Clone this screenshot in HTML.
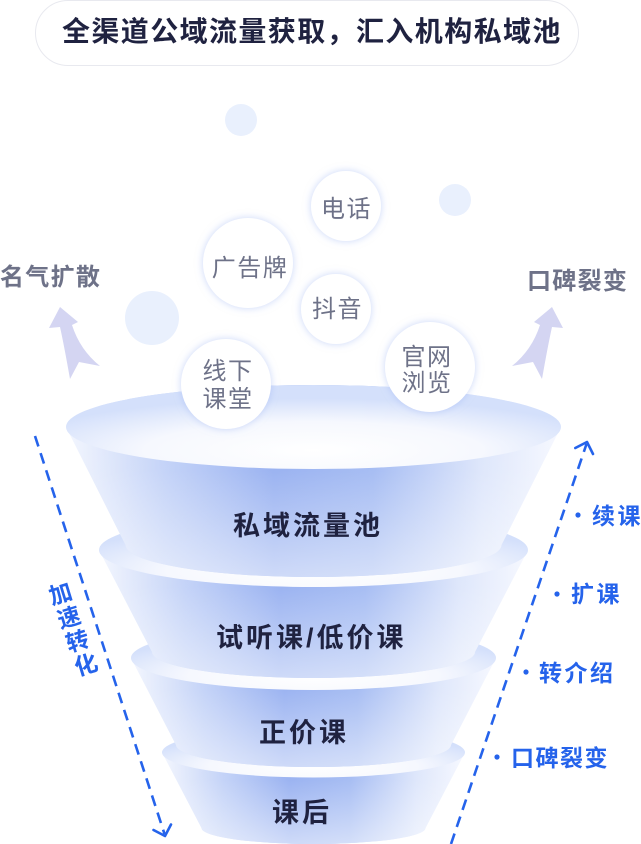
<!DOCTYPE html>
<html>
<head>
<meta charset="utf-8">
<style>
  html,body{margin:0;padding:0;background:#ffffff;}
  body{width:641px;height:844px;overflow:hidden;}
  svg{display:block;}
  text{font-family:"Liberation Sans","Noto Sans CJK SC",sans-serif;}
</style>
</head>
<body>
<svg width="641" height="844" viewBox="0 0 641 844" xmlns="http://www.w3.org/2000/svg">
  <defs>
    <linearGradient id="body" x1="0" x2="1" y1="0" y2="0">
      <stop offset="0" stop-color="#f3f6fe"/>
      <stop offset="0.2" stop-color="#c0d0f7"/>
      <stop offset="0.42" stop-color="#93adf0"/>
      <stop offset="0.62" stop-color="#a0b8f2"/>
      <stop offset="0.84" stop-color="#dce5fb"/>
      <stop offset="1" stop-color="#f6f8ff"/>
    </linearGradient>
    <linearGradient id="bodyV" x1="0" x2="0" y1="0" y2="1">
      <stop offset="0" stop-color="#ffffff" stop-opacity="0"/>
      <stop offset="0.45" stop-color="#ffffff" stop-opacity="0.08"/>
      <stop offset="1" stop-color="#ffffff" stop-opacity="0.55"/>
    </linearGradient>
    <radialGradient id="topface" cx="0.5" cy="0.78" r="0.62">
      <stop offset="0" stop-color="#ffffff"/>
      <stop offset="0.55" stop-color="#f6f8fe"/>
      <stop offset="1" stop-color="#d4e0fb"/>
    </radialGradient>
    <filter id="glow" x="-40%" y="-40%" width="180%" height="180%">
      <feDropShadow dx="0" dy="0" stdDeviation="4" flood-color="#9db4f3" flood-opacity="0.55"/>
    </filter>
  </defs>

  <!-- Title pill -->
  <rect x="35.5" y="0.5" width="543" height="65" rx="32.5" fill="#ffffff" stroke="#e8e9ef" stroke-width="1"/>
  <text x="62" y="41" font-size="28" font-weight="700" fill="#1f2240" letter-spacing="1.4">全渠道公域流量获取，汇入机构私域池</text>

  <!-- decorative light bubbles -->
  <circle cx="241" cy="120" r="16" fill="#e9f0fd"/>
  <circle cx="455" cy="200" r="16" fill="#e9f0fd"/>
  <circle cx="152" cy="318" r="27" fill="#e9f0fd"/>

  <!-- lavender arrows -->
  <path d="M60 307 L78 322 L72 325 Q80 350 100 366 L79 362 L70 379 Q64 345 60 327 L49 328 Z" fill="#d4d5f2"/>
  <path d="M552 307 L534 322 L540 325 Q532 350 512 366 L533 362 L542 379 Q548 345 552 327 L563 328 Z" fill="#d4d5f2"/>

  <!-- side labels -->
  <text x="0" y="285" font-size="24" font-weight="700" fill="#6e7288" letter-spacing="1.3">名气扩散</text>
  <text x="527" y="289" font-size="24" font-weight="700" fill="#6e7288" letter-spacing="1.3">口碑裂变</text>

  <!-- Funnel layer 4 -->
  <path d="M162 752.5 L201.5 828 A112 16 0 0 0 425.5 828 L465 752.5 A151.5 25 0 0 0 162 752.5 Z" fill="url(#body)"/>
  <path d="M162 752.5 L201.5 828 A112 16 0 0 0 425.5 828 L465 752.5 A151.5 25 0 0 0 162 752.5 Z" fill="url(#bodyV)"/>
  <ellipse cx="313.5" cy="752.5" rx="151.5" ry="25" fill="url(#topface)"/>

  <!-- Funnel layer 3 -->
  <path d="M131 658 L176 745 A137.5 22 0 0 0 451 745 L496 658 A182.5 32 0 0 0 131 658 Z" fill="url(#body)"/>
  <path d="M131 658 L176 745 A137.5 22 0 0 0 451 745 L496 658 A182.5 32 0 0 0 131 658 Z" fill="url(#bodyV)"/>
  <ellipse cx="313.5" cy="658" rx="182.5" ry="32" fill="url(#topface)"/>

  <!-- Funnel layer 2 -->
  <path d="M99 550 L152 652 A161.5 26 0 0 0 475 652 L528 550 A214.5 37 0 0 0 99 550 Z" fill="url(#body)"/>
  <path d="M99 550 L152 652 A161.5 26 0 0 0 475 652 L528 550 A214.5 37 0 0 0 99 550 Z" fill="url(#bodyV)"/>
  <ellipse cx="313.5" cy="550" rx="214.5" ry="37" fill="url(#topface)"/>

  <!-- Funnel layer 1 -->
  <path d="M66 427 L125.5 545 A188 32 0 0 0 501.5 545 L561 427 A247.5 42 0 0 0 66 427 Z" fill="url(#body)"/>
  <path d="M66 427 L125.5 545 A188 32 0 0 0 501.5 545 L561 427 A247.5 42 0 0 0 66 427 Z" fill="url(#bodyV)"/>
  <ellipse cx="313.5" cy="427" rx="247.5" ry="42" fill="url(#topface)"/>

  <!-- funnel labels -->
  <text x="233" y="535" font-size="27" font-weight="700" fill="#1f2240" letter-spacing="3">私域流量池</text>
  <text x="216" y="647" font-size="27" font-weight="700" fill="#1f2240" letter-spacing="3">试听课/低价课</text>
  <text x="259" y="742" font-size="27" font-weight="700" fill="#1f2240" letter-spacing="3">正价课</text>
  <text x="272" y="822" font-size="27" font-weight="700" fill="#1f2240" letter-spacing="3">课后</text>

  <!-- white bubbles -->
  <g filter="url(#glow)" fill="#ffffff">
    <circle cx="346" cy="206" r="35"/>
    <circle cx="248" cy="263" r="45"/>
    <circle cx="336" cy="309" r="35"/>
    <circle cx="226" cy="384" r="45"/>
    <circle cx="430" cy="367" r="45"/>
  </g>
  <g font-size="24" fill="#6e7288" text-anchor="middle" letter-spacing="1.5">
    <text x="346.5" y="217">电话</text>
    <text x="250" y="276">广告牌</text>
    <text x="337.5" y="317">抖音</text>
    <text x="228" y="379">线下</text>
    <text x="228" y="407">课堂</text>
    <text x="427" y="365">官网</text>
    <text x="427" y="391">浏览</text>
  </g>

  <!-- left dashed arrow -->
  <line x1="35" y1="436" x2="164.5" y2="834" stroke="#2563eb" stroke-width="2.6" stroke-dasharray="11 7"/>
  <polyline points="153.5,830 165,836 171,824.5" fill="none" stroke="#2563eb" stroke-width="2.6" stroke-linecap="round" stroke-linejoin="round"/>

  <!-- right dashed arrow -->
  <line x1="451" y1="844" x2="586.5" y2="444" stroke="#2563eb" stroke-width="2.6" stroke-dasharray="11 7"/>
  <polyline points="575.3,448 587,442 593,454" fill="none" stroke="#2563eb" stroke-width="2.6" stroke-linecap="round" stroke-linejoin="round"/>

  <!-- 加速转化 -->
  <g font-size="23" font-weight="700" fill="#2563eb" text-anchor="middle">
    <text x="60.5" y="602" transform="rotate(-17 60.5 594)">加</text>
    <text x="69" y="625.7" transform="rotate(-17 69 617.7)">速</text>
    <text x="77.5" y="649.3" transform="rotate(-17 77.5 641.3)">转</text>
    <text x="86" y="673" transform="rotate(-17 86 665)">化</text>
  </g>

  <!-- right labels -->
  <g fill="#2563eb">
    <circle cx="578" cy="515" r="2.6"/>
    <circle cx="557" cy="594" r="2.6"/>
    <circle cx="526" cy="672" r="2.6"/>
    <circle cx="497" cy="757" r="2.6"/>
  </g>
  <g font-size="23" font-weight="700" fill="#2563eb" letter-spacing="2.5">
    <text x="592" y="524">续课</text>
    <text x="571" y="602">扩课</text>
    <text x="539" y="681">转介绍</text>
    <text x="511" y="766" letter-spacing="1.5">口碑裂变</text>
  </g>
</svg>
</body>
</html>
